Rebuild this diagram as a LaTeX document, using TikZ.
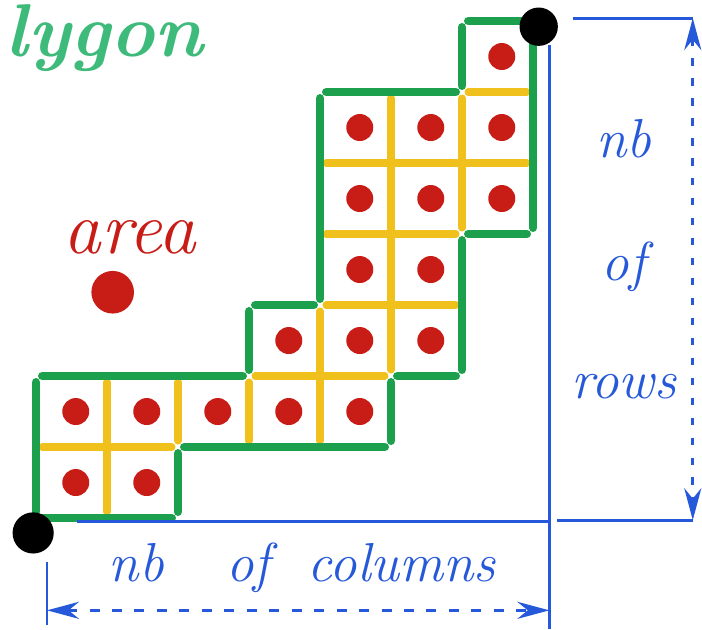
\documentclass[tikz,border=0pt]{standalone}
\usepackage{xcolor}
\usepackage{tikz}
\usetikzlibrary{arrows.meta,calc}
\definecolor{stickgreen}{RGB}{28,160,78}
\definecolor{stickyellow}{RGB}{240,192,28}
\definecolor{dotred}{RGB}{200,28,22}
\definecolor{penblue}{RGB}{38,88,218}
\definecolor{titlegreen}{RGB}{62,186,122}

\begin{document}
\begin{tikzpicture}[
		stick/.style={line width=3.4pt, line cap=round, shorten >=2.5pt, shorten <=2.5pt},
		polyedge/.style={stick, draw=stickgreen},
		inneredge/.style={stick, draw=stickyellow, line width=3pt},
		dimline/.style={draw=penblue, line width=1.1pt},
		dimarrow/.style={dimline, dash pattern=on 3pt off 5pt,
			{Stealth[length=4.5mm,width=2.4mm]}-{Stealth[length=4.5mm,width=2.4mm]}},
		hand/.style={font=\fontsize{22}{24}\selectfont\itshape, text=penblue, inner sep=0pt}]
		\useasboundingbox (-0.507,-1.563) rectangle (9.380,7.296);
		% title and legend
		\node[anchor=base west, inner sep=0pt, text=titlegreen,
			font=\fontsize{30}{32}\selectfont\bfseries\itshape] (title) at (-0.43,6.5) {lygon};
		\node[anchor=base, inner sep=0pt, text=dotred,
			font=\fontsize{30}{32}\selectfont\itshape] (arealabel) at (1.32,3.73) {area};
		\fill[dotred] (1.08,3.18) circle (0.3);
		% yellow sticks between two cells
		\foreach \xa/\ya/\xb/\yb in {0/1/2/1, 3/2/5/2, 4/3/6/3, 4/4/6/4, 4/5/7/5, 6/6/7/6,
				1/0/1/2, 2/1/2/2, 3/1/3/2, 4/1/4/3, 5/2/5/6, 6/4/6/6}
			\draw[inneredge] (\xa,\ya) -- (\xb,\yb);
		% green sticks round the polygon
		\foreach \xa/\ya/\xb/\yb in {0/0/2/0, 2/0/2/1, 2/1/5/1, 5/1/5/2, 5/2/6/2, 6/2/6/4,
				6/4/7/4, 7/4/7/7, 7/7/6/7, 6/7/6/6, 6/6/4/6, 4/6/4/3, 4/3/3/3, 3/3/3/2,
				3/2/0/2, 0/2/0/0}
			\draw[polyedge] (\xa,\ya) -- (\xb,\yb);
		% one red dot per cell
		\foreach \c/\r in {0/0, 1/0, 0/1, 1/1, 2/1, 3/1, 4/1, 3/2, 4/2, 5/2, 4/3, 5/3,
				4/4, 5/4, 6/4, 4/5, 5/5, 6/5, 6/6}
			\fill[dotred] (\c+0.56,\r+0.5) circle (0.19);
		% corners
		\coordinate (sw) at (-0.04,-0.21);
		\coordinate (ne) at (7.08,6.92);
		\fill (sw) circle (0.29);
		\fill (ne) circle (0.27);
		% extension lines
		\draw[dimline, line width=1.5pt] (0.58,-0.05) -- (7.23,-0.05);
		\draw[dimline] (7.23,6.66) -- (7.23,-1.563);
		\draw[dimline] (7.56,7.04) -- (9.25,7.04);
		\draw[dimline] (7.34,-0.03) -- (9.25,-0.03);
		\draw[dimline] (0.155,-0.62) -- (0.155,-1.51);
		% nb of rows
		\coordinate (rowtop) at (9.25,7.04);
		\coordinate (rowbot) at (9.25,-0.03);
		\draw[dimarrow] (rowtop) -- (rowbot);
		\foreach \t/\y in {nb/5.08, of/3.35, rows/1.69}
			\node[hand, anchor=base] (row-\t) at (8.28,\y) {\t};
		% nb of columns
		\coordinate (colleft) at (0.155,-1.30);
		\coordinate (colright) at (7.23,-1.30);
		\draw[dimarrow, dash pattern=on 4pt off 5pt] (colleft) -- (colright);
		\node[hand, anchor=base] (cols) at (3.75,-0.9)
		{nb\hspace{25pt}of\hspace{15pt}columns};
	\end{tikzpicture}
\end{document}
